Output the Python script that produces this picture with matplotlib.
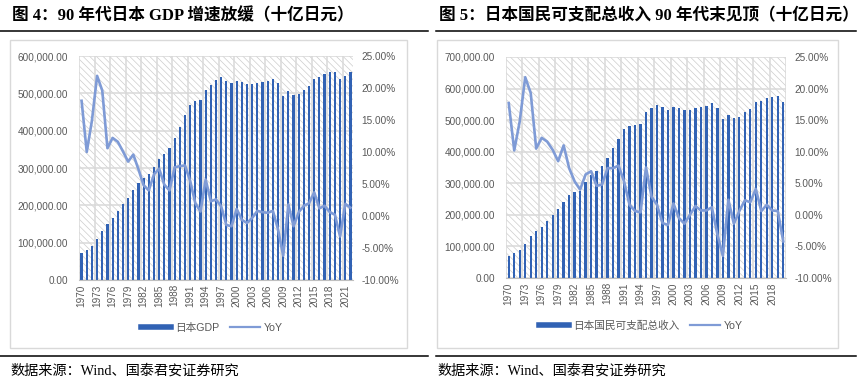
import matplotlib
matplotlib.use("Agg")
import matplotlib.pyplot as plt
import numpy as np
from matplotlib.patches import Rectangle
from matplotlib.lines import Line2D
from matplotlib.ticker import FuncFormatter

plt.rcParams['font.family'] = ['Liberation Sans', 'Noto Sans CJK SC', 'DejaVu Sans']
plt.rcParams['hatch.linewidth'] = 0.5

# ---------------- data ----------------
years_gdp = list(range(1970, 2023))
gdp = [72000, 80000, 91000, 110000, 132000, 149000, 165000, 184000, 204000, 220000,
       242000, 261000, 274000, 283000, 303000, 325000, 338000, 354000, 380000, 409000,
       441000, 470000, 480000, 483000, 509000, 522000, 535000, 543000, 532000, 527000,
       534000, 530000, 525000, 524000, 529000, 531000, 534000, 538000, 528000, 492000,
       505000, 496000, 499000, 509000, 520000, 538000, 545000, 553000, 557000, 557000,
       538000, 547000, 557000]
gdp_yoy = [18.0, 10.0, 14.9, 21.9, 19.6, 10.6, 12.2, 11.6, 10.1, 8.5,
           9.6, 7.3, 4.8, 4.0, 6.5, 7.4, 4.9, 4.0, 7.6, 7.8,
           7.9, 5.5, 2.0, 0.7, 5.7, 2.3, 2.6, 1.5, -1.4, -1.6,
           1.1, -0.6, -1.1, -0.3, 0.8, 0.6, 0.5, 0.8, -2.1, -6.2,
           1.8, -1.6, 0.6, 1.6, 2.0, 3.7, 1.2, 1.6, 0.6, 0.2,
           -3.2, 1.9, 1.3]

years_gni = list(range(1970, 2021))
gni = [70600, 79000, 89600, 108600, 131800, 147600, 162500, 181500, 200500, 219500,
       241700, 261600, 272400, 274300, 302800, 325000, 337700, 355700, 380000, 410500,
       441000, 472000, 482400, 485600, 488700, 524500, 538500, 549000, 541600, 531000,
       541600, 538500, 531000, 531000, 539400, 541600, 545800, 554300, 538500, 504600,
       515000, 506800, 510000, 524500, 535300, 557500, 561600, 568900, 573300, 577400,
       556200]
gni_yoy = [17.7, 10.2, 14.8, 21.8, 19.3, 10.5, 12.2, 11.6, 10.3, 8.5,
           11.0, 7.4, 5.3, 4.0, 6.4, 6.9, 4.6, 4.8, 7.4, 7.4,
           7.8, 5.3, 1.6, 0.6, 0.4, 7.5, 2.9, 1.6, -1.3, -1.6,
           1.8, -0.5, -1.4, 0.0, 1.4, 0.7, 0.7, 1.2, -3.1, -6.5,
           2.4, -1.4, 0.6, 2.3, 2.0, 4.1, 0.6, 1.6, 0.7, 0.6,
           -4.2]

title_left = "图 4：90 年代日本 GDP 增速放缓（十亿日元）"
title_right = "图 5：日本国民可支配总收入 90 年代末见顶（十亿日元）"
source_text = "数据来源：Wind、国泰君安证券研究"
bar_label_left = "日本GDP"
bar_label_right = "日本国民可支配总收入"
line_label = "YoY"

BAR_C = '#3162B4'
LINE_C = '#7F9BD6'
GRID_C = '#D9D9D9'
TXT_C = '#595959'

W, H = 865, 387
fig = plt.figure(figsize=(W / 100, H / 100), dpi=100)


def fx(px):
    return px / W


def fy(py):
    return 1 - py / H


def panel(rect, years, vals, yoy, ymax, bar_label, legend_xy):
    ax = fig.add_axes(rect)
    n = len(years)
    x = np.arange(n)
    ax.set_xlim(-0.5, n - 0.5)
    ax.set_ylim(0, ymax)
    # hatched background
    bg = Rectangle((0, 0), 1, 1, transform=ax.transAxes, facecolor='white',
                   edgecolor='#CDCDCD', hatch='\\\\\\\\\\', linewidth=0, zorder=0)
    ax.add_patch(bg)
    ax.set_axisbelow(True)
    ax.bar(x, vals, width=0.42, color=BAR_C, zorder=2)
    ax.set_yticks(np.arange(0, ymax + 1, 100000))
    ax.yaxis.set_major_formatter(FuncFormatter(lambda v, p: f"{v:,.2f}"))
    ax.set_xticks(x[::3])
    ax.set_xticklabels([str(y) for y in years[::3]], rotation=90)
    ax.set_xticks(np.arange(-0.5, n - 0.4, 3), minor=True)
    ax.grid(axis='y', which='major', color=GRID_C, linewidth=1.1)
    ax.grid(axis='x', which='minor', color=GRID_C, linewidth=1.1)
    ax.grid(axis='x', which='major', visible=False)
    for s in ['top', 'right', 'left']:
        ax.spines[s].set_visible(False)
    ax.spines['bottom'].set_color('#BFBFBF')
    ax.tick_params(axis='both', which='both', length=0, colors=TXT_C, labelsize=7.2)
    ax.tick_params(axis='y', pad=8)
    ax.tick_params(axis='x', pad=3)

    ax2 = ax.twinx()
    ax2.set_ylim(-10, 25)
    ax2.set_yticks(np.arange(-10, 26, 5))
    ax2.yaxis.set_major_formatter(FuncFormatter(lambda v, p: f"{v:.2f}%"))
    ax2.plot(x, yoy, color=LINE_C, linewidth=1.9, zorder=3)
    for s in ax2.spines.values():
        s.set_visible(False)
    ax2.tick_params(axis='y', length=0, colors=TXT_C, labelsize=7.2, pad=6)

    handles = [Line2D([], [], color=BAR_C, linewidth=4),
               Line2D([], [], color=LINE_C, linewidth=1.6)]
    fig.legend(handles, [bar_label, line_label], loc='center',
               bbox_to_anchor=legend_xy, ncol=2, frameon=False,
               fontsize=7.7, labelcolor=TXT_C, handlelength=2.8,
               handletextpad=0.4, columnspacing=1.0)
    return ax


panel([fx(79), fy(280), fx(353) - fx(79), fy(56) - fy(280)],
      years_gdp, gdp, gdp_yoy, 600000, bar_label_left, (fx(212), fy(328)))
panel([fx(506), fy(278), fx(786) - fx(506), fy(57) - fy(278)],
      years_gni, gni, gni_yoy, 700000, bar_label_right, (fx(641), fy(326)))

# chart frames
for x0, x1 in [(10, 407), (437, 838)]:
    fig.patches.append(Rectangle((fx(x0), fy(348)), fx(x1) - fx(x0), fy(40) - fy(348),
                                 transform=fig.transFigure, facecolor='none',
                                 edgecolor='#D9D9D9', linewidth=1.0, zorder=0))

# titles, rules and footers
title_font = ['Liberation Serif', 'Noto Sans CJK SC']
fig.text(fx(12), fy(16), title_left, fontsize=12, fontweight='bold',
         family=title_font, va='center', ha='left', color='black')
fig.text(fx(439), fy(16), title_right, fontsize=12, fontweight='bold',
         family=title_font, va='center', ha='left', color='black')
for x0, x1 in [(0, 428), (436, 856)]:
    for yy in (31, 356):
        fig.add_artist(Line2D([fx(x0), fx(x1)], [fy(yy), fy(yy)],
                              transform=fig.transFigure, color='black', linewidth=1.1))
fig.text(fx(10), fy(371), source_text, fontsize=10.2, family=title_font,
         va='center', ha='left', color='black')
fig.text(fx(437), fy(371), source_text, fontsize=10.2, family=title_font,
         va='center', ha='left', color='black')

fig.savefig('out.png', dpi=100)
